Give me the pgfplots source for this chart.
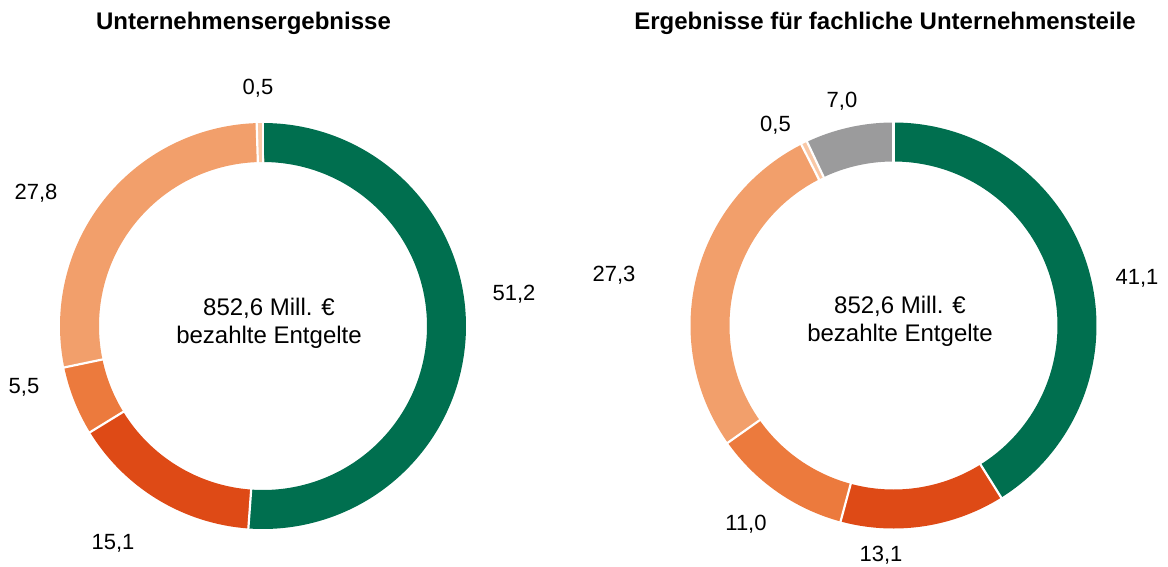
\documentclass[border=0pt]{standalone}
\usepackage{pgfplots}
\pgfplotsset{compat=1.18}
\usepgfplotslibrary{polar}
\usepackage{fontspec}
\setmainfont{Liberation Sans}
\definecolor{cgreen}{HTML}{006F4F}
\definecolor{cdark}{HTML}{DE4A16}
\definecolor{cmid}{HTML}{EC7A3D}
\definecolor{clight}{HTML}{F29F6B}
\definecolor{cpale}{HTML}{F9C8A6}
\definecolor{cgray}{HTML}{9B9B9C}
% segment: colour, start (cumulative share), share, total
\newcommand\seg[4]{%
  \addplot[draw=#1, line width=19.5pt, line cap=butt, no markers,
    domain={90-(#2+#3)/#4*360}:{90-(#2)/#4*360}, samples=150] {183.5};}
% white separator at cumulative share #1 of total #2
\newcommand\sep[2]{%
  \pgfmathsetmacro\sepang{90-(#1)/#2*360}%
  \addplot[white, line width=1.1pt, no markers] coordinates {(\sepang,160) (\sepang,207)};}
\pgfplotsset{donut/.style={scale only axis, width=203pt, height=203pt,
  ymin=0, ymax=203, xmin=0, xmax=360, clip=false, anchor=center,
  axis line style={draw=none}, major tick length=0pt, xtick=\empty, ytick=\empty,
  grid=none}}
\begin{document}
\begin{tikzpicture}[x=0.5pt,y=-0.5pt]
\path[use as bounding box] (0,0) rectangle (1168,567);
% left donut: 51.2, 15.1, 5.5, 27.8, 0.5
\begin{polaraxis}[donut, at={(131.5pt,-163pt)}]
\seg{cgreen}{0}{51.2}{100.1}
\seg{cdark}{51.2}{15.1}{100.1}
\seg{cmid}{66.3}{5.5}{100.1}
\seg{clight}{71.8}{27.8}{100.1}
\seg{cpale}{99.6}{0.5}{100.1}
\sep{0}{100.1}
\sep{51.2}{100.1}
\sep{66.3}{100.1}
\sep{71.8}{100.1}
\sep{99.6}{100.1}
\end{polaraxis}
% right donut: 41.1, 13.1, 11.0, 27.3, 0.5, 7.0
\begin{polaraxis}[donut, at={(446.75pt,-162.75pt)}]
\seg{cgreen}{0}{41.1}{100}
\seg{cdark}{41.1}{13.1}{100}
\seg{cmid}{54.2}{11.0}{100}
\seg{clight}{65.2}{27.3}{100}
\seg{cpale}{92.5}{0.5}{100}
\seg{cgray}{93.0}{7.0}{100}
\sep{0}{100}
\sep{41.1}{100}
\sep{54.2}{100}
\sep{65.2}{100}
\sep{92.5}{100}
\sep{93.0}{100}
\end{polaraxis}
% titles
\node[anchor=base, font=\fontsize{12pt}{14pt}\selectfont\bfseries] at (243.5,30) {Unternehmensergebnisse};
\node[anchor=base, font=\fontsize{12pt}{14pt}\selectfont\bfseries] at (885,30) {Ergebnisse für fachliche Unternehmensteile};
% centre texts
\node[align=center, font=\fontsize{12pt}{14.2pt}\selectfont] at (269,323) {852,6 Mill. €\\bezahlte Entgelte};
\node[align=center, font=\fontsize{12pt}{14.2pt}\selectfont] at (900,321) {852,6 Mill. €\\bezahlte Entgelte};
% labels
\begin{scope}[every node/.style={anchor=base, font=\fontsize{11pt}{13pt}\selectfont}]
\node at (258,95) {0,5};
\node at (36,199) {27,8};
\node at (514,300) {51,2};
\node at (24,393) {5,5};
\node at (113,549) {15,1};
\node at (842,108) {7,0};
\node at (775.5,132) {0,5};
\node at (614,281) {27,3};
\node at (1137,284) {41,1};
\node at (746,530) {11,0};
\node at (881,561) {13,1};
\end{scope}
\end{tikzpicture}
\end{document}
